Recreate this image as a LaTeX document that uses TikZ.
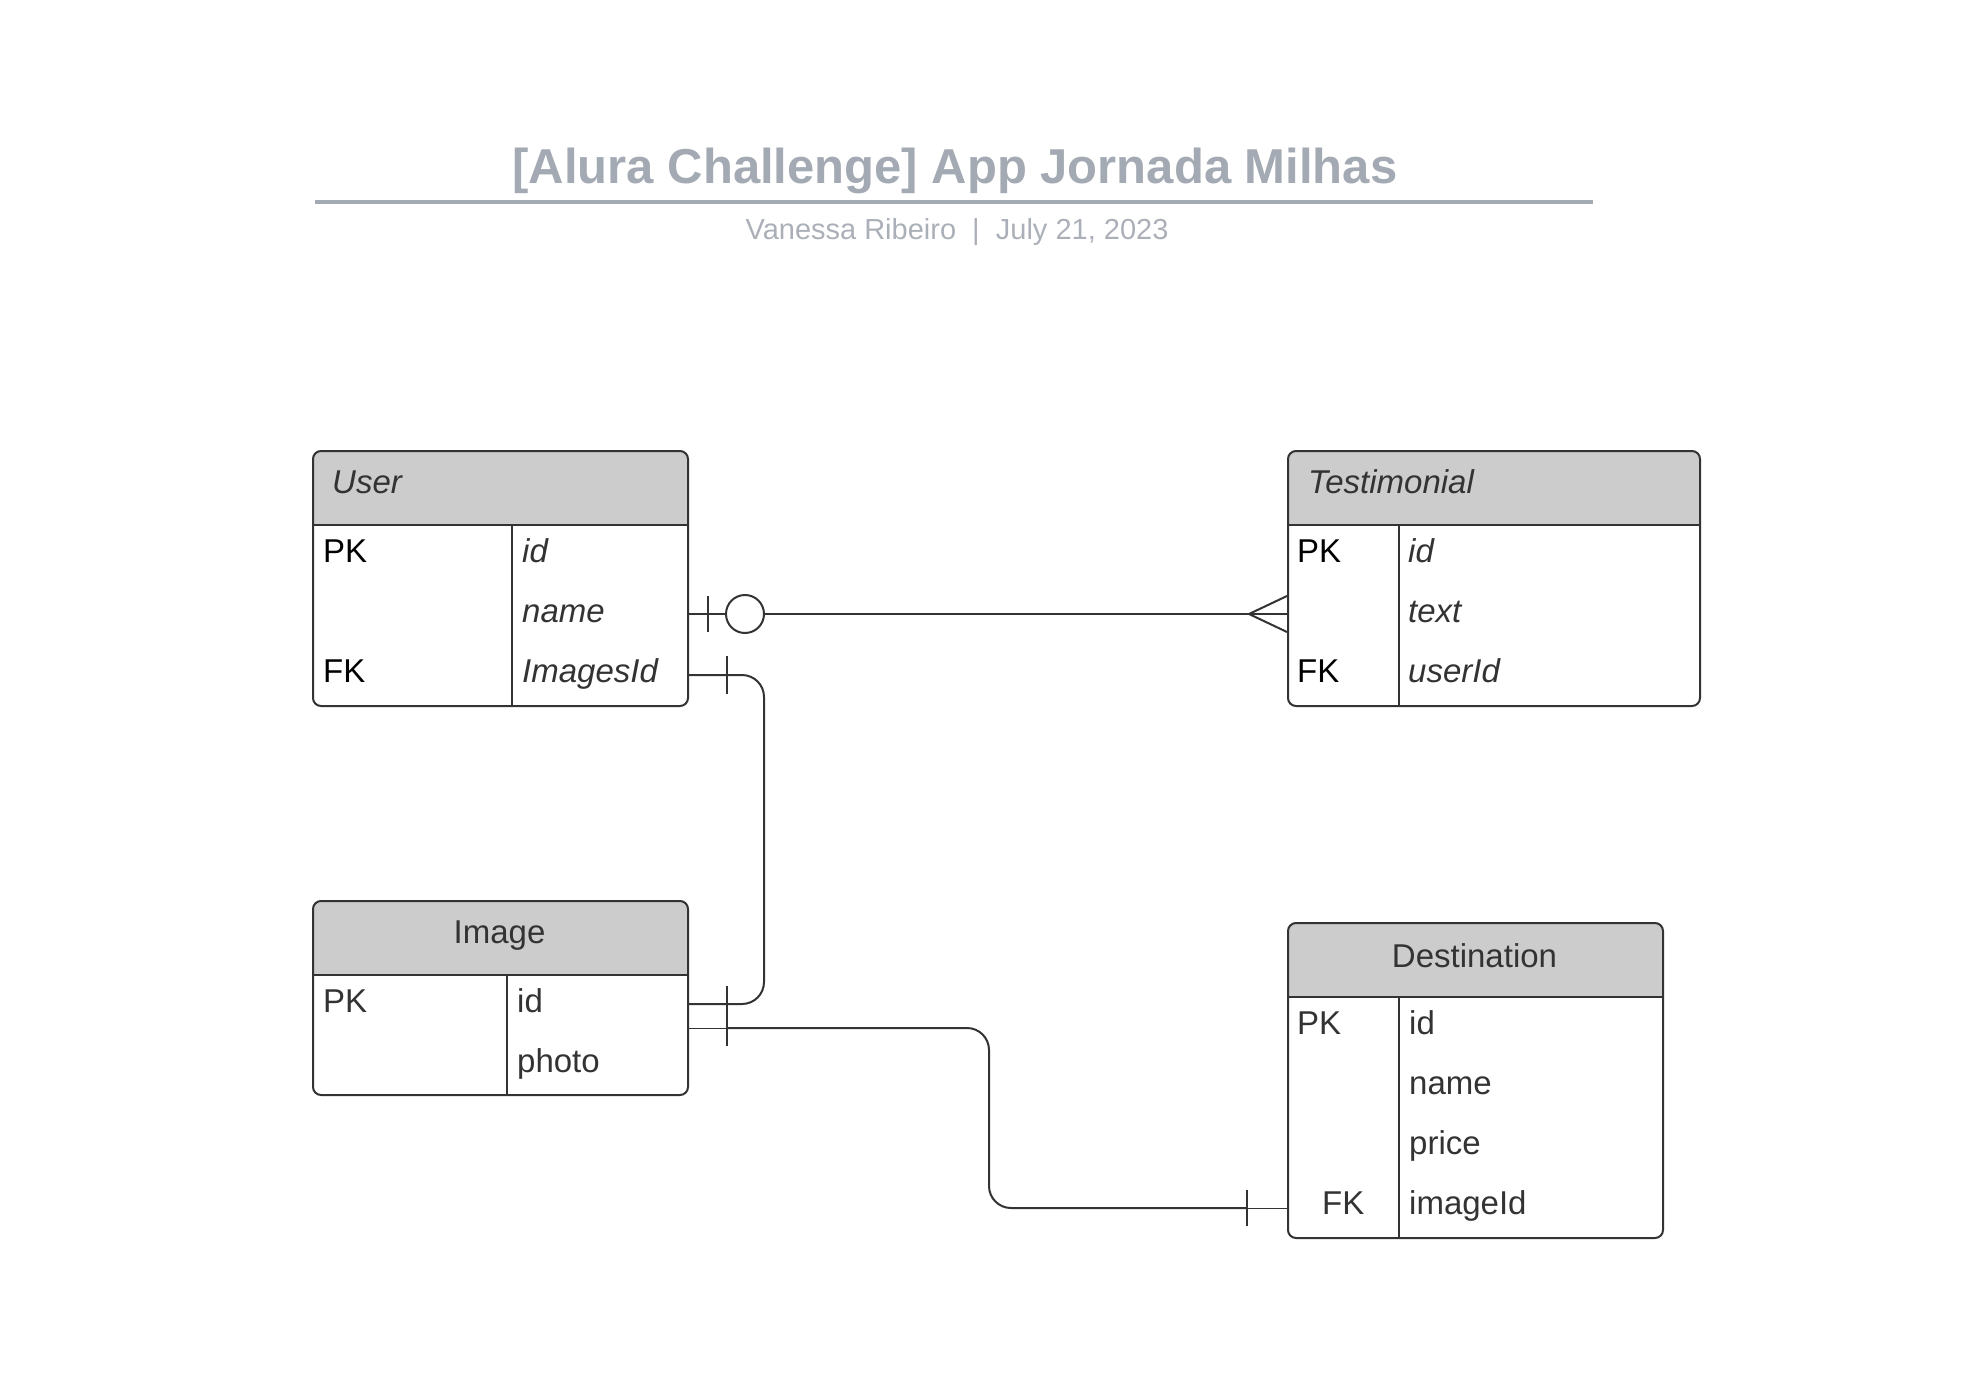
\documentclass[tikz,border=0pt]{standalone}
\usepackage{fontspec}
\setmainfont{Liberation Sans}
\definecolor{erdark}{HTML}{333333}
\definecolor{erhead}{HTML}{CCCCCC}
\definecolor{ertitle}{HTML}{A4AAB3}
\definecolor{ersub}{HTML}{ABB0B8}
\begin{document}
\begin{tikzpicture}[x=1pt,y=-1pt]
	\tikzset{ertable/.style={draw=erdark, line width=2pt, rounded corners=8pt,
				anchor=north west, inner sep=0pt,
				path picture={\fill[erhead, sharp corners] (path picture bounding box.north west) rectangle ([yshift=-75pt]path picture bounding box.north east);}}}
	\tikzset{ertext/.style={anchor=base west, inner sep=0pt, text=erdark,
				font=\fontsize{33}{40}\selectfont}}
	\tikzset{erkey/.style={ertext, text=black}}
	\tikzset{erline/.style={draw=erdark, line width=2pt}}
	\tikzset{erthin/.style={draw=erdark, line width=1pt}}
	\tikzset{ergrid/.style={draw=erdark, line width=1.5pt}}

	\useasboundingbox (0,0) rectangle (1973,1388);

	% title
	\node[anchor=base, inner sep=0pt, text=ertitle, font=\fontsize{49}{58}\selectfont\bfseries] (title) at (955,184) {[Alura Challenge] App Jornada Milhas};
	\draw[draw=ertitle, line width=4pt] (315,202) -- (1593,202);
	\node[anchor=base, inner sep=0pt, text=ersub, font=\fontsize{29}{35}\selectfont] (subtitle) at (957,240) {Vanessa Ribeiro \ | \ July 21, 2023};

	% User
	\node[ertable, minimum width=375pt, minimum height=255pt] (user) at (312,450) {};
	\draw[ergrid] ([yshift=-75pt]user.north west) -- ([yshift=-75pt]user.north east);
	\draw[ergrid] (512,525) -- (512,705);
	\node[ertext] (userHead) at (332,493) {\itshape User};
	\node[erkey] (userPk) at (323,562) {PK};
	\node[ertext] (userId) at (522,562) {\itshape id};
	\node[ertext] (userNm) at (522,622) {\itshape name};
	\node[erkey] (userFk) at (323,682) {FK};
	\node[ertext] (userImgs) at (522,682) {\itshape ImagesId};

	% Testimonial
	\node[ertable, minimum width=412pt, minimum height=255pt] (testi) at (1287,450) {};
	\draw[ergrid] ([yshift=-75pt]testi.north west) -- ([yshift=-75pt]testi.north east);
	\draw[ergrid] (1399,525) -- (1399,705);
	\node[ertext] (testiHead) at (1308,493) {\itshape Testimonial};
	\node[erkey] (testiPk) at (1297,562) {PK};
	\node[ertext] (testiId) at (1408,562) {\itshape id};
	\node[ertext] (testiTx) at (1408,622) {\itshape text};
	\node[erkey] (testiFk) at (1297,682) {FK};
	\node[ertext] (testiUser) at (1408,682) {\itshape userId};

	% Image
	\node[ertable, minimum width=375pt, minimum height=194pt] (image) at (312,900) {};
	\draw[ergrid] ([yshift=-75pt]image.north west) -- ([yshift=-75pt]image.north east);
	\draw[ergrid] (507,975) -- (507,1094);
	\node[ertext, anchor=base] (imageHead) at (499.5,943) {Image};
	\node[ertext] (imagePk) at (323,1012) {PK};
	\node[ertext] (imageId) at (517,1012) {id};
	\node[ertext] (imagePhoto) at (517,1072) {photo};

	% Destination
	\node[ertable, minimum width=375pt, minimum height=315pt] (dest) at (1287,922) {};
	\draw[ergrid] ([yshift=-75pt]dest.north west) -- ([yshift=-75pt]dest.north east);
	\draw[ergrid] (1399,997) -- (1399,1237);
	\node[ertext, anchor=base] (destHead) at (1474.5,967) {Destination};
	\node[ertext] (destPk) at (1297,1034) {PK};
	\node[ertext] (destId) at (1409,1034) {id};
	\node[ertext] (destNm) at (1409,1094) {name};
	\node[ertext] (destPrice) at (1409,1154) {price};
	\node[ertext] (destFk) at (1322,1214) {FK};
	\node[ertext] (destImg) at (1409,1214) {imageId};

	% link points
	\coordinate (userName) at (user.east |- 0,614);
	\coordinate (userImg) at (user.east |- 0,675);
	\coordinate (testiText) at (testi.west |- 0,614);
	\coordinate (imgId) at (image.east |- 0,1004);
	\coordinate (imgLink) at (image.east |- 0,1028);
	\coordinate (destLink) at (dest.west |- 0,1208);

	% User -- Testimonial
	\draw[erline] (userName) -- (testiText);
	\draw[erline] ([xshift=19pt,yshift=18pt]userName) -- ([xshift=19pt,yshift=-18pt]userName);
	\draw[erline, fill=white] ([xshift=56pt]userName) circle (19pt);
	\draw[erline] ([yshift=18pt]testiText) -- ([xshift=-38pt]testiText) -- ([yshift=-18pt]testiText);

	% User -- Image
	\draw[erline, rounded corners=22pt] (userImg) -- ++(75,0) |- (imgId);
	\draw[erline] ([xshift=38pt,yshift=19pt]userImg) -- ([xshift=38pt,yshift=-19pt]userImg);
	\draw[erline] ([xshift=38pt,yshift=18pt]imgId) -- ([xshift=38pt,yshift=-18pt]imgId);

	% Image -- Destination
	\draw[erthin] (imgLink) -- ([xshift=38pt]imgLink);
	\draw[erline, rounded corners=22pt] ([xshift=38pt]imgLink) -- ++(262,0) |- ([xshift=-40pt]destLink);
	\draw[erthin] ([xshift=-40pt]destLink) -- (destLink);
	\draw[erline] ([xshift=38pt,yshift=18pt]imgLink) -- ([xshift=38pt,yshift=-18pt]imgLink);
	\draw[erline] ([xshift=-40pt,yshift=18pt]destLink) -- ([xshift=-40pt,yshift=-18pt]destLink);
\end{tikzpicture}
\end{document}
